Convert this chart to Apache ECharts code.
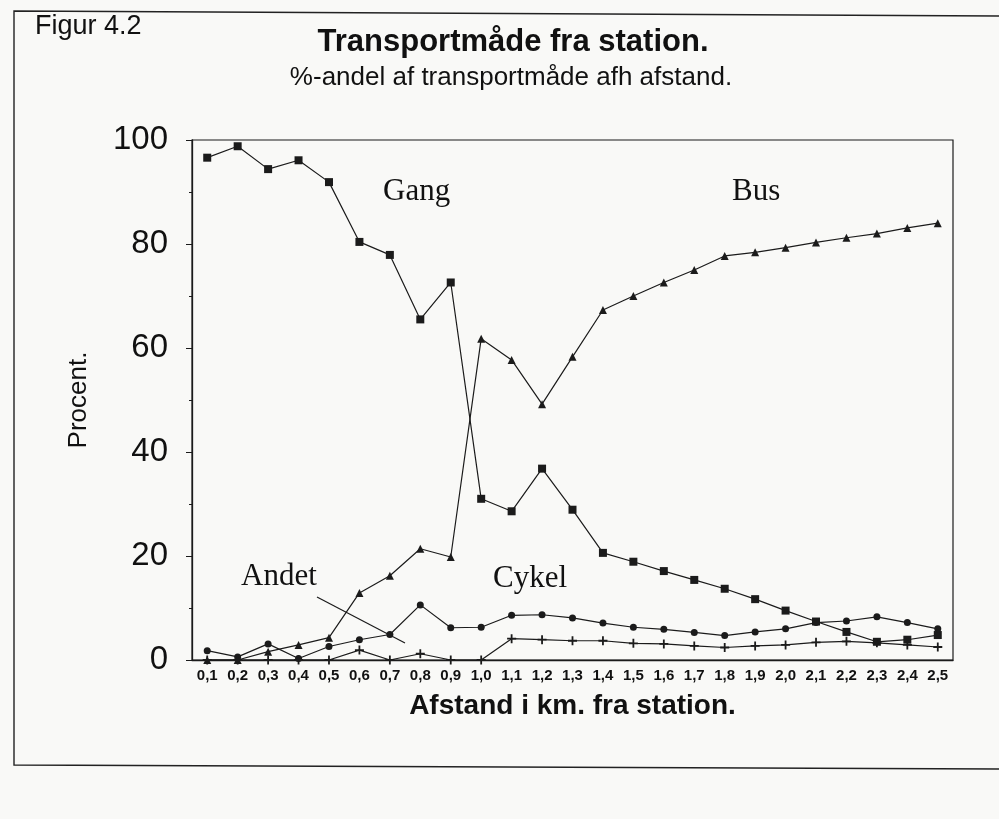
<!DOCTYPE html>
<html>
<head>
<meta charset="utf-8">
<title>Transportmåde fra station</title>
<script src="https://cdn.jsdelivr.net/npm/echarts@6/dist/echarts.min.js"></script>
<style>
  html, body { margin: 0; padding: 0; background: #f9f9f7; }
  #myChart { width: 999px; height: 819px; }
</style>
</head>
<body>
<div id="myChart"></div>
<script>
// afstand i km fra station
const afstand = ['0,1', '0,2', '0,3', '0,4', '0,5', '0,6', '0,7', '0,8', '0,9', '1,0',
  '1,1', '1,2', '1,3', '1,4', '1,5', '1,6', '1,7', '1,8', '1,9', '2,0',
  '2,1', '2,2', '2,3', '2,4', '2,5']

// procent-andele
const gang = [96.6, 98.8, 94.4, 96.1, 91.9, 80.4, 77.9, 65.5, 72.6, 31.0,
  28.6, 36.8, 28.9, 20.6, 18.9, 17.1, 15.4, 13.7, 11.7, 9.5,
  7.4, 5.4, 3.5, 3.9, 4.8]
const bus = [0, 0, 1.6, 2.9, 4.3, 12.9, 16.2, 21.4, 19.8, 61.8,
  57.7, 49.2, 58.3, 67.3, 70.0, 72.6, 75.0, 77.7, 78.4, 79.3,
  80.3, 81.2, 82.0, 83.1, 84.0]
const cykel = [1.8, 0.6, 3.1, 0.3, 2.6, 3.9, 4.9, 10.6, 6.2, 6.3,
  8.6, 8.7, 8.1, 7.1, 6.3, 5.9, 5.3, 4.7, 5.4, 6.0,
  7.2, 7.5, 8.3, 7.2, 6.0]
const andet = [0, 0, 0, 0, 0, 1.9, 0, 1.2, 0, 0,
  4.1, 3.9, 3.7, 3.7, 3.2, 3.1, 2.7, 2.4, 2.7, 2.9,
  3.4, 3.6, 3.3, 2.9, 2.5]

const yTicks = [0, 20, 40, 60, 80, 100]

const ink = '#1b1b1b'
const plus = 'path://M4,0 L6,0 L6,4 L10,4 L10,6 L6,6 L6,10 L4,10 L4,6 L0,6 L0,4 L4,4 Z'
const sans = '"Liberation Sans", Arial, sans-serif'
const serif = '"Liberation Serif", "Times New Roman", serif'

function lineSeries(name, data, symbol, size) {
  return {
    name: name,
    type: 'line',
    data: data,
    symbol: symbol,
    symbolSize: size,
    lineStyle: { color: ink, width: 1.2 },
    itemStyle: { color: ink },
    animation: false
  }
}

function seriesNote(text, x, y) {
  return {
    type: 'text',
    x: x,
    y: y,
    style: { text: text, font: '31px ' + serif, fill: '#111', verticalAlign: 'middle' }
  }
}

const myChart = echarts.init(document.getElementById('myChart'))
myChart.setOption({
  backgroundColor: '#f9f9f7',
  textStyle: { fontFamily: 'Liberation Sans' },
  grid: {
    left: 192,
    right: 46,
    top: 140,
    bottom: 159,
    show: true,
    borderColor: ink,
    borderWidth: 1.2
  },
  xAxis: [
    {
      type: 'category',
      data: afstand,
      boundaryGap: true,
      name: 'Afstand i km. fra station.',
      nameLocation: 'middle',
      nameGap: 32,
      nameTextStyle: { color: '#111', fontSize: 28, fontWeight: 'bold' },
      axisLine: { lineStyle: { color: ink, width: 1.3 } },
      axisTick: { alignWithLabel: true, length: 5, lineStyle: { color: ink, width: 1.2 } },
      axisLabel: { color: '#111', fontSize: 15, fontWeight: 'bold', margin: 8 }
    },
    {
      // indvendige tick-streger så de krydser aksen
      type: 'category',
      data: afstand,
      position: 'bottom',
      axisLine: { show: false },
      axisTick: { inside: true, alignWithLabel: true, length: 5, lineStyle: { color: ink, width: 1.2 } },
      axisLabel: { show: false }
    }
  ],
  yAxis: {
    type: 'value',
    min: 0,
    max: 100,
    interval: 20,
    name: 'Procent.',
    nameLocation: 'middle',
    nameGap: 100,
    nameTextStyle: { color: '#111', fontSize: 26 },
    axisLine: { show: true, lineStyle: { color: ink, width: 1.3 } },
    axisTick: { show: true, length: 6, lineStyle: { color: ink } },
    minorTick: { show: true, splitNumber: 2, length: 3, lineStyle: { color: ink } },
    splitLine: { show: false },
    axisLabel: {
      color: '#111',
      fontSize: 33,
      margin: 24,
      formatter: v => (yTicks.indexOf(v) >= 0 ? String(v) : '')
    }
  },
  series: [
    lineSeries('Gang', gang, 'rect', 8),
    lineSeries('Bus', bus, 'triangle', 8),
    lineSeries('Cykel', cykel, 'circle', 7),
    lineSeries('Andet', andet, plus, 9)
  ],
  graphic: [
    // ramme om figuren
    {
      type: 'polyline',
      shape: { points: [[999, 16], [14, 11], [14, 765], [999, 769]] },
      style: { stroke: '#222', lineWidth: 1.4, fill: null }
    },
    { type: 'text', x: 35, y: 27, style: { text: 'Figur 4.2', font: '27px ' + sans, fill: '#111', verticalAlign: 'middle' } },
    { type: 'text', x: 513, y: 42, style: { text: 'Transportmåde fra station.', font: 'bold 31px ' + sans, fill: '#111', align: 'center', verticalAlign: 'middle' } },
    { type: 'text', x: 511, y: 78, style: { text: '%-andel af transportmåde afh afstand.', font: '26px ' + sans, fill: '#111', align: 'center', verticalAlign: 'middle' } },
    // serienavne i plottet
    seriesNote('Gang', 383, 192),
    seriesNote('Bus', 732, 192),
    seriesNote('Andet', 241, 577),
    seriesNote('Cykel', 493, 579),
    {
      type: 'line',
      shape: { x1: 317, y1: 597, x2: 405, y2: 643 },
      style: { stroke: ink, lineWidth: 1.2 }
    }
  ]
})
</script>
</body>
</html>
